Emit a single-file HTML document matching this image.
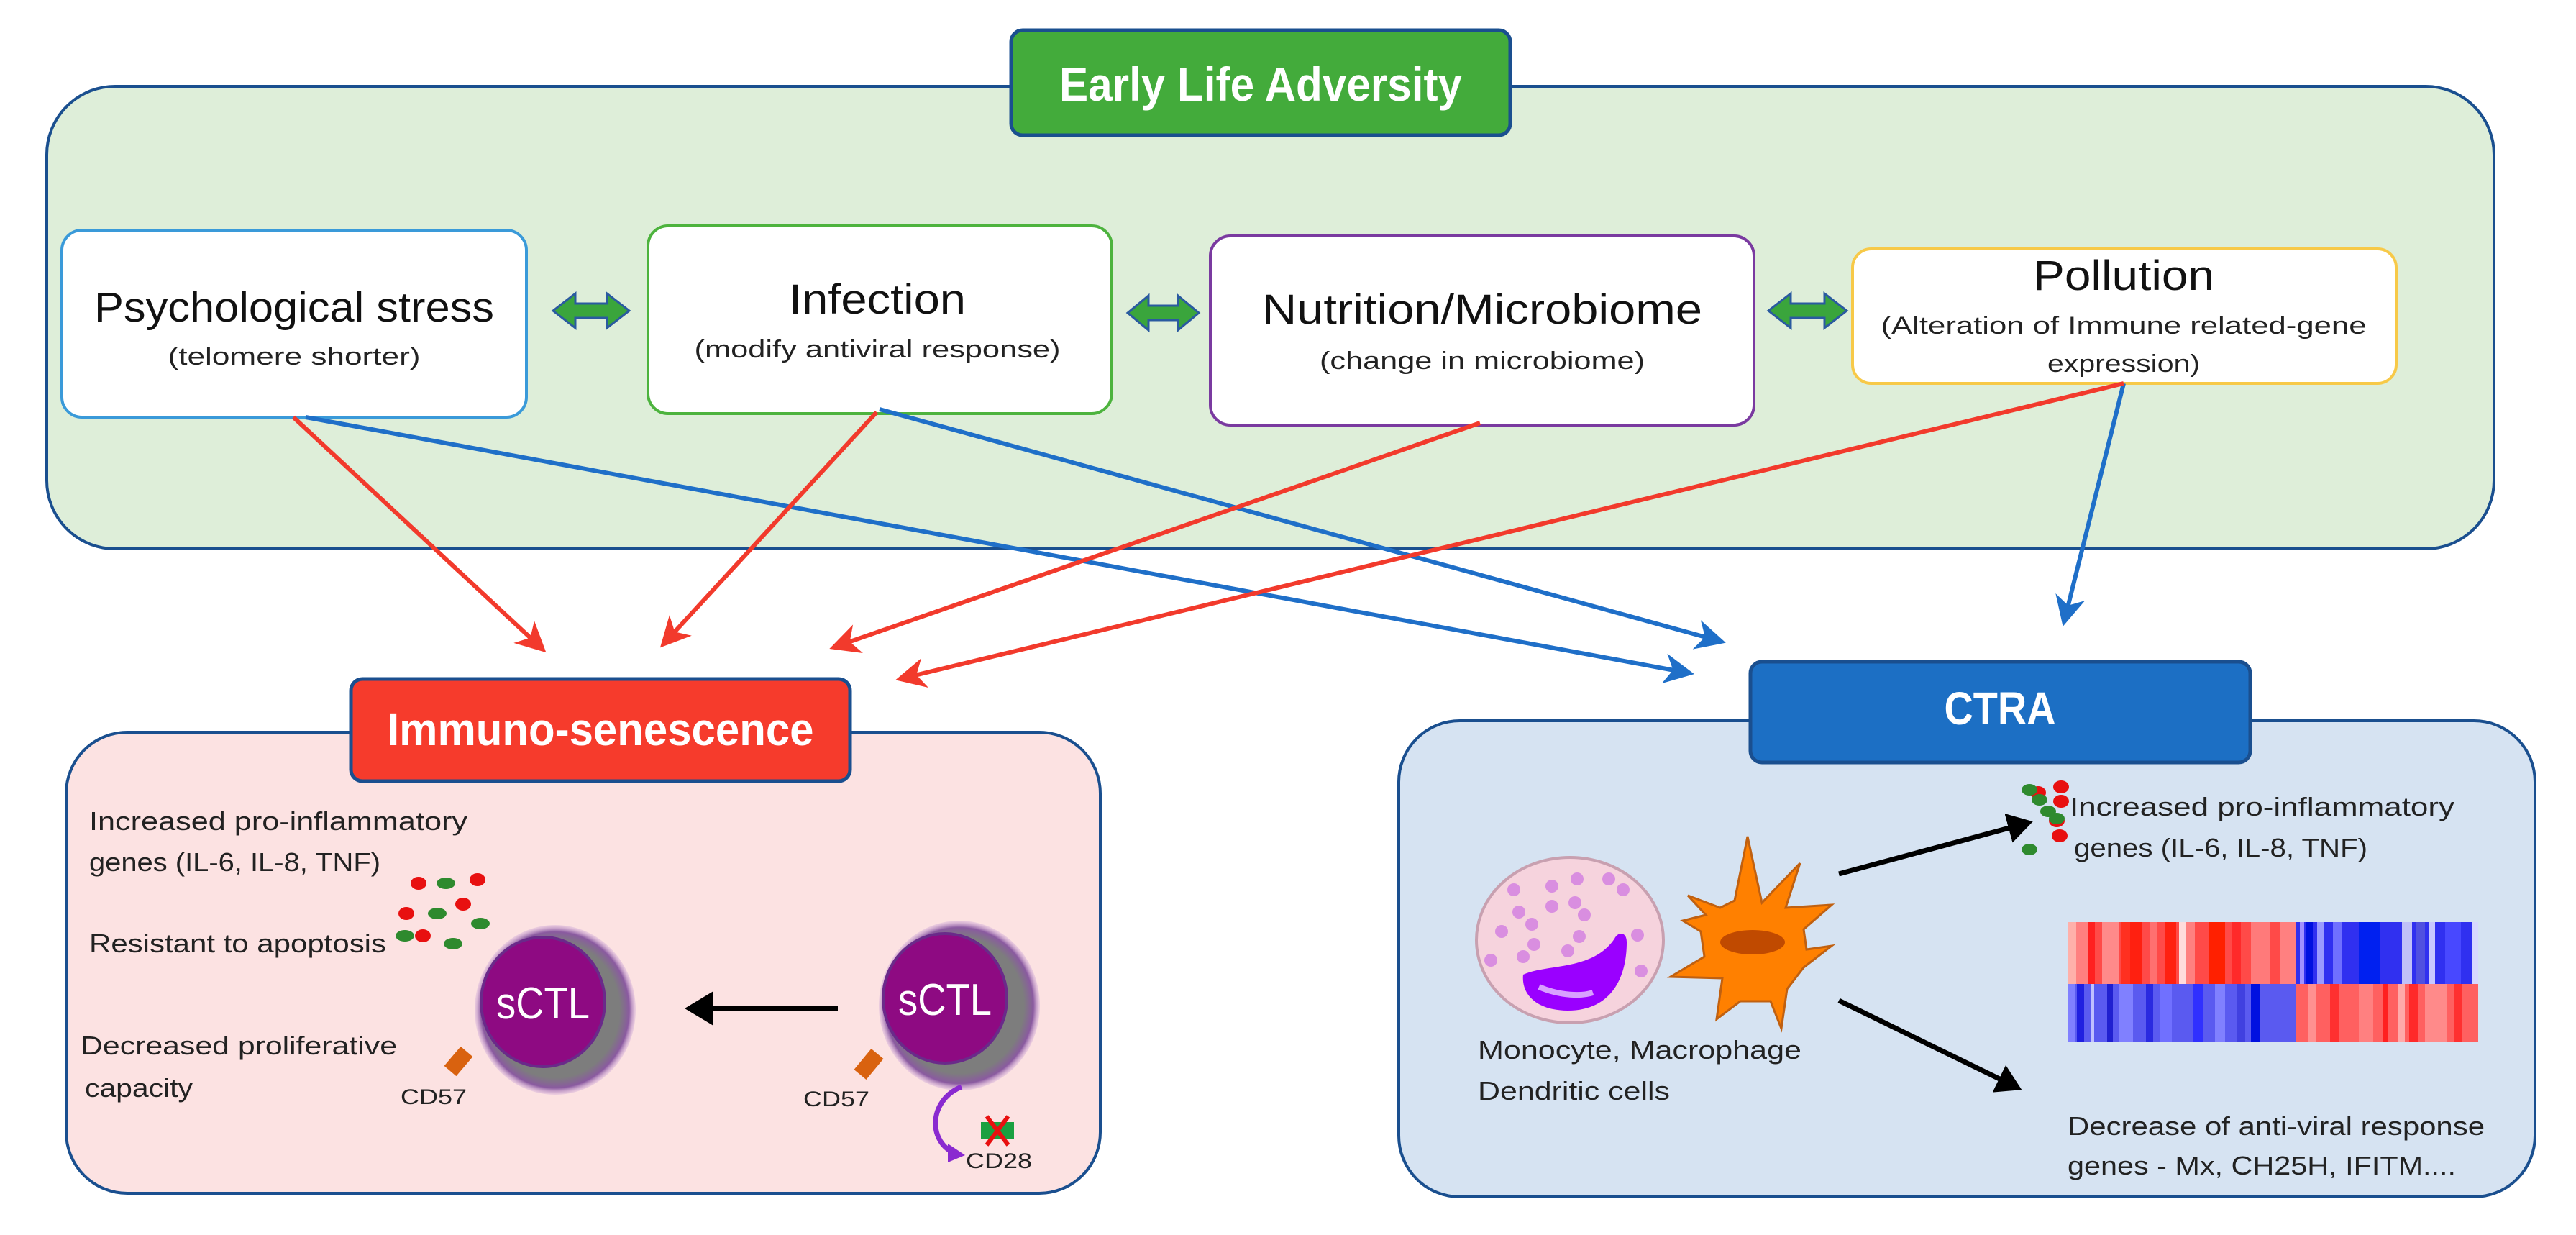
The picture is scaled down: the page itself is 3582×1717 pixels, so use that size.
<!DOCTYPE html>
<html><head><meta charset="utf-8"><style>
html,body{margin:0;padding:0;background:#fff;}
svg{display:block;}
text{font-family:"Liberation Sans",sans-serif;}
</style></head><body>
<svg width="3582" height="1717" viewBox="0 0 3582 1717" xmlns="http://www.w3.org/2000/svg">
<defs>
<marker id="ar" markerWidth="8" markerHeight="8" refX="6" refY="4" orient="auto" markerUnits="strokeWidth"><path d="M0,0.5 L7,4 L0,7.5 L2,4 Z" fill="#f23a2c"/></marker>
<marker id="ab" markerWidth="8" markerHeight="8" refX="6" refY="4" orient="auto" markerUnits="strokeWidth"><path d="M0,0.5 L7,4 L0,7.5 L2,4 Z" fill="#1f6fc8"/></marker>
<marker id="ak" markerWidth="6" markerHeight="6" refX="4" refY="3" orient="auto" markerUnits="strokeWidth"><path d="M0,0 L5,3 L0,6 Z" fill="#000"/></marker>
<radialGradient id="cellg" cx="0.5" cy="0.5" r="0.5"><stop offset="0.8" stop-color="#7d7d7d"/><stop offset="0.92" stop-color="#8a5aa0"/><stop offset="1" stop-color="#c9a0d8" stop-opacity="0.3"/></radialGradient>
</defs>

<rect x="65" y="120" width="3403" height="643" rx="95" fill="#deeed9" stroke="#1a4f8f" stroke-width="4"/>
<rect x="1406" y="42" width="694" height="146" rx="16" fill="#43ab3b" stroke="#1a4f8f" stroke-width="5"/>
<text x="1753" y="140" font-size="66" font-weight="bold" fill="#fff" text-anchor="middle" textLength="560" lengthAdjust="spacingAndGlyphs">Early Life Adversity</text>

<rect x="86" y="320" width="646" height="260" rx="28" fill="#fff" stroke="#3a9ad9" stroke-width="4"/>
<text x="409" y="447" font-size="58" fill="#111" text-anchor="middle" textLength="556" lengthAdjust="spacingAndGlyphs">Psychological stress</text>
<text x="409" y="507" font-size="34" fill="#222" text-anchor="middle" textLength="351" lengthAdjust="spacingAndGlyphs">(telomere shorter)</text>

<rect x="901" y="314" width="645" height="261" rx="28" fill="#fff" stroke="#4db33e" stroke-width="4"/>
<text x="1220" y="436" font-size="58" fill="#111" text-anchor="middle" textLength="246" lengthAdjust="spacingAndGlyphs">Infection</text>
<text x="1220" y="497" font-size="34" fill="#222" text-anchor="middle" textLength="509" lengthAdjust="spacingAndGlyphs">(modify antiviral response)</text>

<rect x="1683" y="328" width="756" height="263" rx="28" fill="#fff" stroke="#7a3aa0" stroke-width="4"/>
<text x="2061" y="450" font-size="58" fill="#111" text-anchor="middle" textLength="612" lengthAdjust="spacingAndGlyphs">Nutrition/Microbiome</text>
<text x="2061" y="513" font-size="34" fill="#222" text-anchor="middle" textLength="452" lengthAdjust="spacingAndGlyphs">(change in microbiome)</text>

<rect x="2576" y="346" width="756" height="187" rx="26" fill="#fff" stroke="#f7c948" stroke-width="4"/>
<text x="2953" y="403" font-size="58" fill="#111" text-anchor="middle" textLength="252" lengthAdjust="spacingAndGlyphs">Pollution</text>
<text x="2953" y="464" font-size="34" fill="#222" text-anchor="middle" textLength="675" lengthAdjust="spacingAndGlyphs">(Alteration of Immune related-gene</text>
<text x="2953" y="517" font-size="34" fill="#222" text-anchor="middle" textLength="212" lengthAdjust="spacingAndGlyphs">expression)</text>

<g fill="#3aa53c" stroke="#2a5aa0" stroke-width="3">
<path d="M769,432 L800,408 L800,422 L844,422 L844,408 L875,432 L844,456 L844,442 L800,442 L800,456 Z"/>
<path d="M1568,435 L1597,411 L1597,425 L1638,425 L1638,411 L1667,435 L1638,459 L1638,445 L1597,445 L1597,459 Z"/>
<path d="M2459,432 L2490,408 L2490,422 L2537,422 L2537,408 L2568,432 L2537,456 L2537,442 L2490,442 L2490,456 Z"/>
</g>

<g stroke-width="6" fill="none">
<line x1="425" y1="580" x2="2350" y2="936" stroke="#1f6fc8" marker-end="url(#ab)"/>
<line x1="1223" y1="569" x2="2394" y2="892" stroke="#1f6fc8" marker-end="url(#ab)"/>
<line x1="2953" y1="533" x2="2870" y2="865" stroke="#1f6fc8" marker-end="url(#ab)"/>
<line x1="408" y1="580" x2="755" y2="903" stroke="#f23a2c" marker-end="url(#ar)"/>
<line x1="1219" y1="573" x2="922" y2="896" stroke="#f23a2c" marker-end="url(#ar)"/>
<line x1="2058" y1="588" x2="1159" y2="900" stroke="#f23a2c" marker-end="url(#ar)"/>
<line x1="2953" y1="533" x2="1251" y2="944" stroke="#f23a2c" marker-end="url(#ar)"/>
</g>

<rect x="92" y="1018" width="1438" height="641" rx="85" fill="#fce2e2" stroke="#1a4f8f" stroke-width="4"/>
<rect x="488" y="944" width="694" height="142" rx="16" fill="#f63b2c" stroke="#1a4f8f" stroke-width="5"/>
<text x="835" y="1036" font-size="64" font-weight="bold" fill="#fff" text-anchor="middle" textLength="593" lengthAdjust="spacingAndGlyphs">Immuno-senescence</text>

<g font-size="36" fill="#222">
<text x="124" y="1154" textLength="526" lengthAdjust="spacingAndGlyphs">Increased pro-inflammatory</text>
<text x="124" y="1211" textLength="405" lengthAdjust="spacingAndGlyphs">genes (IL-6, IL-8, TNF)</text>
<text x="124" y="1324" textLength="413" lengthAdjust="spacingAndGlyphs">Resistant to apoptosis</text>
<text x="112" y="1466" textLength="440" lengthAdjust="spacingAndGlyphs">Decreased proliferative</text>
<text x="118" y="1525" textLength="150" lengthAdjust="spacingAndGlyphs">capacity</text>
</g>
<g>
<ellipse cx="582" cy="1228" rx="11" ry="9" fill="#e81010"/>
<ellipse cx="664" cy="1223" rx="11" ry="9" fill="#e81010"/>
<ellipse cx="644" cy="1257" rx="11" ry="9" fill="#e81010"/>
<ellipse cx="565" cy="1270" rx="11" ry="9" fill="#e81010"/>
<ellipse cx="588" cy="1301" rx="11" ry="9" fill="#e81010"/>
<ellipse cx="620" cy="1228" rx="13" ry="8" fill="#2e8a2e"/>
<ellipse cx="608" cy="1270" rx="13" ry="8" fill="#2e8a2e"/>
<ellipse cx="668" cy="1284" rx="13" ry="8" fill="#2e8a2e"/>
<ellipse cx="563" cy="1301" rx="13" ry="8" fill="#2e8a2e"/>
<ellipse cx="630" cy="1312" rx="13" ry="8" fill="#2e8a2e"/>
</g>
<line x1="649" y1="1462" x2="626" y2="1489" stroke="#d9620f" stroke-width="22"/>
<ellipse cx="772" cy="1404" rx="112" ry="118" fill="url(#cellg)"/>
<ellipse cx="755" cy="1393" rx="86" ry="90" fill="#8e0a82" stroke="#6a2a8a" stroke-width="4"/>
<text x="755" y="1416" font-size="62" fill="#fff" text-anchor="middle" textLength="130" lengthAdjust="spacingAndGlyphs">sCTL</text>
<text x="603" y="1535" font-size="30" fill="#222" text-anchor="middle" textLength="92" lengthAdjust="spacingAndGlyphs">CD57</text>
<line x1="1165" y1="1402" x2="960" y2="1402" stroke="#000" stroke-width="8" marker-end="url(#ak)"/>
<line x1="1220" y1="1465" x2="1196" y2="1494" stroke="#d9620f" stroke-width="22"/>
<ellipse cx="1334" cy="1398" rx="112" ry="118" fill="url(#cellg)"/>
<ellipse cx="1314" cy="1388" rx="86" ry="90" fill="#8e0a82" stroke="#6a2a8a" stroke-width="4"/>
<text x="1314" y="1411" font-size="62" fill="#fff" text-anchor="middle" textLength="130" lengthAdjust="spacingAndGlyphs">sCTL</text>
<text x="1163" y="1538" font-size="30" fill="#222" text-anchor="middle" textLength="92" lengthAdjust="spacingAndGlyphs">CD57</text>
<path d="M1337,1511 C1290,1530 1290,1590 1330,1604" stroke="#8a2ad0" stroke-width="7" fill="none"/>
<path d="M1318,1590 L1342,1606 L1318,1616 Z" fill="#8a2ad0"/>
<rect x="1364" y="1560" width="46" height="24" fill="#1aa040"/>
<path d="M1372,1552 L1402,1592 M1402,1552 L1372,1592" stroke="#e81010" stroke-width="6"/>
<text x="1389" y="1624" font-size="30" fill="#222" text-anchor="middle" textLength="92" lengthAdjust="spacingAndGlyphs">CD28</text>

<rect x="1945" y="1002" width="1580" height="662" rx="85" fill="#d6e3f2" stroke="#1a4f8f" stroke-width="4"/>
<rect x="2434" y="920" width="695" height="140" rx="16" fill="#1c6fc4" stroke="#1a4f8f" stroke-width="5"/>
<text x="2781" y="1007" font-size="64" font-weight="bold" fill="#fff" text-anchor="middle" textLength="155" lengthAdjust="spacingAndGlyphs">CTRA</text>

<ellipse cx="2183" cy="1307" rx="130" ry="115" fill="#f6d3dd" stroke="#c8a0b0" stroke-width="4"/>
<g fill="#d98ee0">
<circle cx="2105" cy="1237" r="9"/><circle cx="2158" cy="1232" r="9"/><circle cx="2193" cy="1222" r="9"/><circle cx="2237" cy="1222" r="9"/><circle cx="2257" cy="1237" r="9"/>
<circle cx="2112" cy="1268" r="9"/><circle cx="2158" cy="1260" r="9"/><circle cx="2190" cy="1255" r="9"/><circle cx="2203" cy="1272" r="9"/>
<circle cx="2088" cy="1295" r="9"/><circle cx="2130" cy="1285" r="9"/><circle cx="2133" cy="1313" r="9"/><circle cx="2180" cy="1322" r="9"/><circle cx="2196" cy="1302" r="9"/><circle cx="2277" cy="1300" r="9"/>
<circle cx="2073" cy="1335" r="9"/><circle cx="2118" cy="1330" r="9"/><circle cx="2282" cy="1350" r="9"/>
</g>
<path d="M2118,1355 C2150,1340 2215,1350 2245,1305 C2250,1295 2262,1295 2262,1310 C2262,1360 2240,1405 2180,1405 C2140,1405 2115,1385 2118,1355 Z" fill="#9a00ff"/>
<path d="M2140,1372 C2170,1385 2200,1385 2215,1380" stroke="#d8a0ff" stroke-width="8" fill="none"/>
<path d="M2430,1163 L2450,1255 L2503,1200 L2483,1262 L2547,1258 L2508,1292 L2512,1320 L2547,1315 L2508,1345 L2485,1375 L2477,1430 L2462,1392 L2420,1392 L2387,1417 L2395,1360 L2323,1358 L2370,1330 L2365,1295 L2340,1280 L2372,1272 L2347,1245 L2392,1262 L2412,1252 Z" fill="#ff8000" stroke="#c06010" stroke-width="3"/>
<ellipse cx="2437" cy="1310" rx="45" ry="17" fill="#c04a00"/>
<text x="2055" y="1472" font-size="36" fill="#222" textLength="450" lengthAdjust="spacingAndGlyphs">Monocyte, Macrophage</text>
<text x="2055" y="1529" font-size="36" fill="#222" textLength="267" lengthAdjust="spacingAndGlyphs">Dendritic cells</text>

<line x1="2557" y1="1215" x2="2820" y2="1144" stroke="#000" stroke-width="7" marker-end="url(#ak)"/>
<line x1="2557" y1="1391" x2="2805" y2="1512" stroke="#000" stroke-width="7" marker-end="url(#ak)"/>
<g>
<ellipse cx="2834" cy="1102" rx="11" ry="9" fill="#e81010"/>
<ellipse cx="2866" cy="1094" rx="11" ry="9" fill="#e81010"/>
<ellipse cx="2866" cy="1114" rx="11" ry="9" fill="#e81010"/>
<ellipse cx="2864" cy="1162" rx="11" ry="9" fill="#e81010"/>
<ellipse cx="2860" cy="1141" rx="11" ry="9" fill="#e81010"/>
<ellipse cx="2836" cy="1112" rx="11" ry="8" fill="#2e8a2e"/>
<ellipse cx="2848" cy="1128" rx="11" ry="8" fill="#2e8a2e"/>
<ellipse cx="2860" cy="1138" rx="11" ry="8" fill="#2e8a2e"/>
<ellipse cx="2822" cy="1098" rx="11" ry="8" fill="#2e8a2e"/>
<ellipse cx="2822" cy="1181" rx="11" ry="8" fill="#2e8a2e"/>
</g>
<text x="2878" y="1134" font-size="36" fill="#222" textLength="535" lengthAdjust="spacingAndGlyphs">Increased  pro-inflammatory</text>
<text x="2884" y="1191" font-size="36" fill="#222" textLength="408" lengthAdjust="spacingAndGlyphs">genes  (IL-6, IL-8, TNF)</text>

<g>
<rect x="2876" y="1282" width="316" height="86" fill="#ff4a48"/>
<rect x="2876" y="1282" width="11" height="86" fill="#ffb0aa"/>
<rect x="2887" y="1282" width="16" height="86" fill="#ff8080"/>
<rect x="2903" y="1282" width="10" height="86" fill="#ff2020"/>
<rect x="2923" y="1282" width="23" height="86" fill="#ff8a8a"/>
<rect x="2950" y="1282" width="12" height="86" fill="#ff3020"/>
<rect x="2962" y="1282" width="16" height="86" fill="#ff2010"/>
<rect x="2990" y="1282" width="10" height="86" fill="#ff7070"/>
<rect x="3010" y="1282" width="16" height="86" fill="#ff2010"/>
<rect x="3030" y="1282" width="10" height="86" fill="#ffdcdc"/>
<rect x="3040" y="1282" width="12" height="86" fill="#ff8080"/>
<rect x="3072" y="1282" width="22" height="86" fill="#ff2000"/>
<rect x="3104" y="1282" width="12" height="86" fill="#ff2a2a"/>
<rect x="3130" y="1282" width="26" height="86" fill="#ff7a7a"/>
<rect x="3170" y="1282" width="22" height="86" fill="#ff8080"/>
<rect x="3192" y="1282" width="254" height="86" fill="#3030f0"/>
<rect x="3198" y="1282" width="6" height="86" fill="#a090ff"/>
<rect x="3206" y="1282" width="10" height="86" fill="#0010e0"/>
<rect x="3222" y="1282" width="10" height="86" fill="#9a9aff"/>
<rect x="3244" y="1282" width="12" height="86" fill="#7070ff"/>
<rect x="3280" y="1282" width="30" height="86" fill="#0020f0"/>
<rect x="3340" y="1282" width="14" height="86" fill="#c0c0f8"/>
<rect x="3360" y="1282" width="12" height="86" fill="#5050e0"/>
<rect x="3378" y="1282" width="8" height="86" fill="#c8c8ff"/>
<rect x="3400" y="1282" width="22" height="86" fill="#4848ff"/>
<rect x="3438" y="1282" width="8" height="86" fill="#d8d8ff"/>
<rect x="2876" y="1368" width="316" height="80" fill="#5a5af0"/>
<rect x="2876" y="1368" width="10" height="80" fill="#8080ff"/>
<rect x="2888" y="1368" width="10" height="80" fill="#2020e0"/>
<rect x="2908" y="1368" width="4" height="80" fill="#c0c0ff"/>
<rect x="2930" y="1368" width="8" height="80" fill="#2020d0"/>
<rect x="2946" y="1368" width="20" height="80" fill="#8080ff"/>
<rect x="2984" y="1368" width="10" height="80" fill="#2a2ae0"/>
<rect x="3004" y="1368" width="16" height="80" fill="#7070ff"/>
<rect x="3050" y="1368" width="14" height="80" fill="#3030ff"/>
<rect x="3080" y="1368" width="14" height="80" fill="#8080ff"/>
<rect x="3110" y="1368" width="12" height="80" fill="#4040e0"/>
<rect x="3130" y="1368" width="12" height="80" fill="#0010e0"/>
<rect x="3192" y="1368" width="254" height="80" fill="#ff6060"/>
<rect x="3210" y="1368" width="10" height="80" fill="#ff9090"/>
<rect x="3240" y="1368" width="12" height="80" fill="#ff3030"/>
<rect x="3280" y="1368" width="20" height="80" fill="#ff8080"/>
<rect x="3314" y="1368" width="6" height="80" fill="#ff2020"/>
<rect x="3334" y="1368" width="10" height="80" fill="#ffaaaa"/>
<rect x="3350" y="1368" width="12" height="80" fill="#ff2a2a"/>
<rect x="3372" y="1368" width="30" height="80" fill="#ff8a8a"/>
<rect x="3412" y="1368" width="12" height="80" fill="#ff3030"/>
</g>

<text x="2875" y="1578" font-size="36" fill="#222" textLength="580" lengthAdjust="spacingAndGlyphs">Decrease of anti-viral response</text>
<text x="2875" y="1633" font-size="36" fill="#222" textLength="540" lengthAdjust="spacingAndGlyphs">genes - Mx, CH25H, IFITM....</text>
</svg>
</body></html>
